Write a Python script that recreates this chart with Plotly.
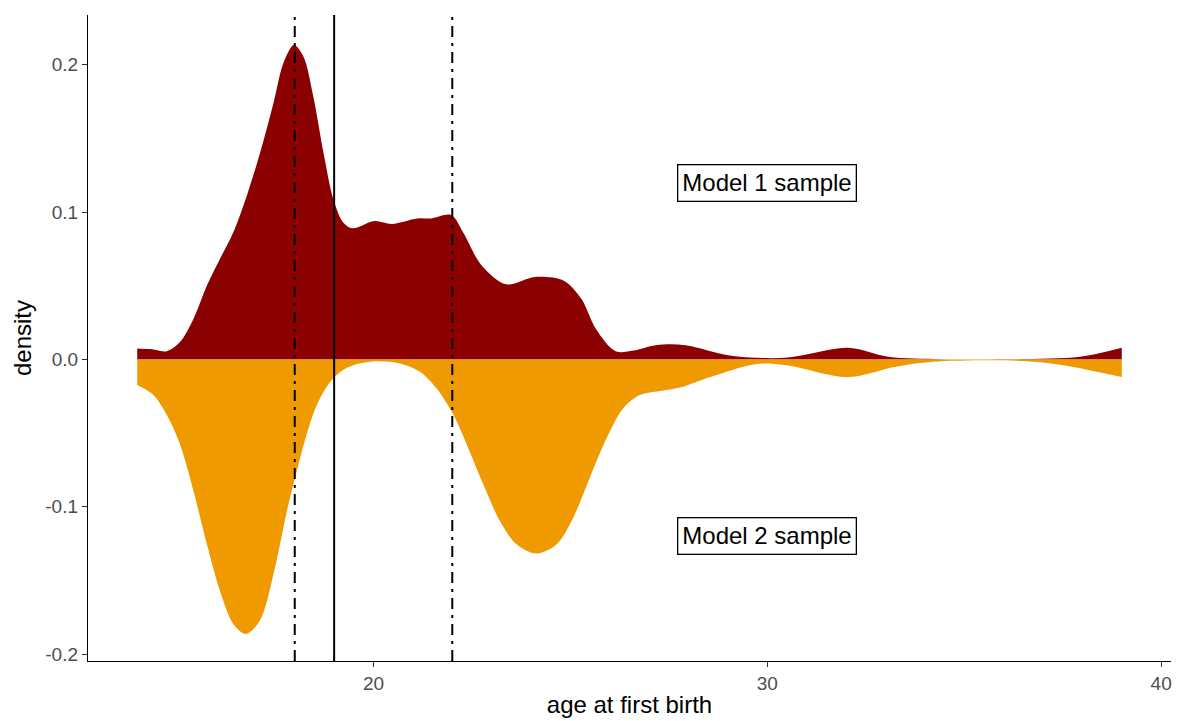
import plotly.graph_objects as go

# Model 1 sample density (upper, positive)
age_m1 = [14.0, 14.33, 14.75, 15.09, 15.43, 15.77, 16.1, 16.44, 16.78, 17.12, 17.46, 17.71,
          17.98, 18.22, 18.47, 18.73, 18.98, 19.23, 19.47, 20.02, 20.47, 21.11, 21.47,
          21.97, 22.28, 22.74, 23.37, 24.1, 24.82, 25.28, 25.64, 26.15, 26.6, 27.17,
          27.92, 29.04, 30.45, 32.04, 33.07, 34.4, 36.0, 37.94, 39.0]
dens_m1 = [0.0074, 0.007, 0.0056, 0.012, 0.0277, 0.0502, 0.0682, 0.0863, 0.111, 0.1403,
           0.1741, 0.2011, 0.2135, 0.2056, 0.1786, 0.1403, 0.1088, 0.093, 0.089, 0.094,
           0.092, 0.0957, 0.0957, 0.098, 0.086, 0.064, 0.051, 0.056, 0.0536, 0.041, 0.021,
           0.0055, 0.006, 0.0097, 0.0097, 0.0027, 0.0011, 0.0079, 0.0018, 0.0002, 0.0001,
           0.0018, 0.0079]

# Model 2 sample density (lower, mirrored negative)
age_m2 = [14.0, 14.41, 14.75, 15.09, 15.43, 15.77, 16.1, 16.44, 16.76, 17.12, 17.46, 17.8,
          18.05, 18.3, 18.56, 18.9, 19.23, 19.6, 20.1, 20.67, 21.18, 21.6, 22.03, 22.37,
          22.79, 23.21, 23.63, 24.14, 24.65, 25.07, 25.49, 25.92, 26.34, 26.76, 27.27,
          27.78, 28.57, 29.7, 30.45, 32.04, 33.26, 34.2, 36.5, 37.48, 39.0]
dens_m2 = [-0.0174, -0.0241, -0.0376, -0.0579, -0.0894, -0.1255, -0.157, -0.1795, -0.1863,
           -0.177, -0.1457, -0.103, -0.0759, -0.0511, -0.0309, -0.0151, -0.0072, -0.003,
           -0.0012, -0.0027, -0.0083, -0.0196, -0.0376, -0.0579, -0.0849, -0.1097, -0.1255,
           -0.1318, -0.1255, -0.1074, -0.0804, -0.0534, -0.0331, -0.0241, -0.0214, -0.0191,
           -0.0117, -0.0032, -0.0038, -0.012, -0.005, -0.0016, -0.001, -0.0038, -0.012]

# reference lines
dashdot_x = [18, 22]
solid_x = [19]

labels = ["Model 1 sample", "Model 2 sample"]
label_x = [30, 30]
label_y = [0.12, -0.12]

x_ticks = [20, 30, 40]
y_ticks = [-0.2, -0.1, 0.0, 0.1, 0.2]
y_ticklabels = ["-0.2", "-0.1", "0.0", "0.1", "0.2"]

RED = "#8B0000"
ORANGE = "#EE9A00"
FONT = "Liberation Sans"

fig = go.Figure()
fig.add_trace(go.Scatter(x=age_m1, y=dens_m1, mode="lines", fill="tozeroy",
                         fillcolor=RED, line=dict(color=RED, width=0, shape="spline", smoothing=0.9),
                         hoverinfo="skip", showlegend=False))
fig.add_trace(go.Scatter(x=age_m2, y=dens_m2, mode="lines", fill="tozeroy",
                         fillcolor=ORANGE, line=dict(color=ORANGE, width=0, shape="spline", smoothing=0.9),
                         hoverinfo="skip", showlegend=False))

for xv in dashdot_x:
    fig.add_vline(x=xv, line=dict(color="black", width=2, dash="11px,6px,3px,6px"))
for xv in solid_x:
    fig.add_vline(x=xv, line=dict(color="black", width=2))

for t, xv, yv in zip(labels, label_x, label_y):
    fig.add_annotation(x=xv, y=yv, text=t, showarrow=False,
                       font=dict(family=FONT, size=24, color="black"),
                       bgcolor="white", bordercolor="black", borderwidth=1.3, borderpad=4)

fig.update_layout(
    width=1179, height=721,
    margin=dict(l=88, r=7, t=15, b=57),
    plot_bgcolor="white", paper_bgcolor="white",
    font=dict(family=FONT),
    xaxis=dict(range=[12.75, 40.25], tickvals=x_ticks, showgrid=False, zeroline=False,
               showline=True, linecolor="black", linewidth=1.3,
               ticks="outside", ticklen=5, tickcolor="#333333", tickwidth=1.3,
               tickfont=dict(family=FONT, size=19, color="#4D4D4D"),
               title=dict(text="age at first birth", font=dict(family=FONT, size=24, color="black"),
                          standoff=3)),
    yaxis=dict(range=[-0.2047, 0.2338], tickvals=y_ticks, ticktext=y_ticklabels,
               showgrid=False, zeroline=False,
               showline=True, linecolor="black", linewidth=1.3,
               ticks="outside", ticklen=5, tickcolor="#333333", tickwidth=1.3,
               tickfont=dict(family=FONT, size=19, color="#4D4D4D"),
               title=dict(text="density", font=dict(family=FONT, size=24, color="black"),
                          standoff=6)),
)

fig.write_html("out.html")
